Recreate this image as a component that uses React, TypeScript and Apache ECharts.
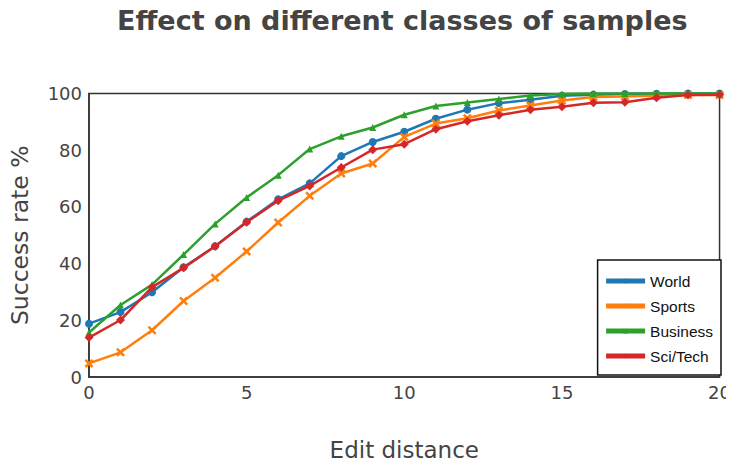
import React, { useEffect, useRef } from "react";
import * as echarts from "echarts";

const editDistance = [0, 1, 2, 3, 4, 5, 6, 7, 8, 9, 10, 11, 12, 13, 14, 15, 16, 17, 18, 19, 20];
const seriesNames = ["World", "Sports", "Business", "Sci/Tech"];
const world = [18.8, 22.9, 29.9, 38.7, 46.1, 54.8, 62.7, 68.3, 77.9, 82.9, 86.5, 91.1, 94.3, 96.6, 97.8, 99.2, 99.6, 99.8, 99.9, 100, 100];
const sports = [4.8, 8.7, 16.5, 26.8, 35.0, 44.3, 54.5, 63.9, 71.8, 75.3, 84.7, 89.4, 91.3, 94.0, 95.8, 97.5, 98.8, 98.9, 99.3, 99.5, 99.5];
const business = [15.7, 25.4, 32.6, 43.2, 54.0, 63.3, 71.2, 80.4, 84.9, 88.0, 92.5, 95.6, 96.8, 98.1, 99.3, 99.8, 100, 100, 100, 100, 100];
const sciTech = [13.9, 20.1, 31.7, 38.5, 46.1, 54.6, 62.2, 67.4, 73.9, 80.2, 82.1, 87.4, 90.2, 92.3, 94.3, 95.3, 96.7, 96.9, 98.5, 99.5, 99.6];

const colors = ["#1f77b4", "#ff7f0e", "#2ca02c", "#d62728"];
const xMarker = "path://M0,2L2,0L5,3L8,0L10,2L7,5L10,8L8,10L5,7L2,10L0,8L3,5Z";
const symbols = ["circle", xMarker, "triangle", "diamond"];
const symbolSizes = [8, 9, 7, 9];

export default function App() {
  const ref = useRef<HTMLDivElement>(null);
  useEffect(() => {
    if (!ref.current) return;
    const chart = echarts.init(ref.current, null, { renderer: "svg" });
    const all = [world, sports, business, sciTech];
    const axisText = { color: "#444", fontFamily: "DejaVu Sans", fontSize: 18 };
    chart.setOption({
      animation: false,
      backgroundColor: "#fff",
      title: {
        text: "Effect on different classes of samples",
        left: 112,
        top: 2,
        textStyle: { fontFamily: "DejaVu Sans", fontWeight: "bold", fontSize: 27, color: "#444" },
      },
      grid: {
        left: 89,
        right: 12,
        top: 93.5,
        bottom: 88,
        show: true,
        borderColor: "#333",
        borderWidth: 1.5,
        backgroundColor: "transparent",
      },
      xAxis: {
        type: "value",
        min: 0,
        max: 20,
        interval: 5,
        name: "Edit distance",
        nameLocation: "middle",
        nameGap: 61,
        nameTextStyle: { color: "#444", fontFamily: "DejaVu Sans", fontSize: 23 },
        axisLine: { show: true, lineStyle: { color: "#333", width: 1.5 } },
        axisTick: { show: false },
        splitLine: { show: false },
        axisLabel: { ...axisText, margin: 6 },
      },
      yAxis: {
        type: "value",
        min: 0,
        max: 100,
        interval: 20,
        name: "Success rate %",
        nameLocation: "middle",
        nameGap: 57,
        nameTextStyle: { color: "#444", fontFamily: "DejaVu Sans", fontSize: 23.5 },
        axisLine: { show: true, lineStyle: { color: "#333", width: 1.5 } },
        axisTick: { show: false },
        splitLine: { show: false },
        axisLabel: { ...axisText, margin: 7 },
      },
      legend: {
        orient: "vertical",
        right: 13,
        bottom: 91,
        backgroundColor: "#fff",
        borderColor: "#111",
        borderWidth: 1.5,
        borderRadius: 0,
        padding: [13, 8, 11, 6],
        itemWidth: 39,
        itemHeight: 6,
        itemGap: 9,
        lineStyle: { width: 5 },
        textStyle: { fontFamily: "Liberation Sans", fontSize: 15.5, color: "#111" },
        data: seriesNames,
      },
      series: seriesNames.map((name, i) => ({
        name,
        type: "line",
        data: editDistance.map((x, j) => [x, all[i][j]]),
        color: colors[i],
        symbol: symbols[i],
        symbolSize: symbolSizes[i],
        showSymbol: true,
        lineStyle: { width: 2.5, color: colors[i] },
        itemStyle: { color: colors[i] },
        clip: false,
        z: 2 + i,
      })),
    });
    return () => chart.dispose();
  }, []);
  return <div ref={ref} style={{ width: 734, height: 466, margin: -8 }} />;
}
